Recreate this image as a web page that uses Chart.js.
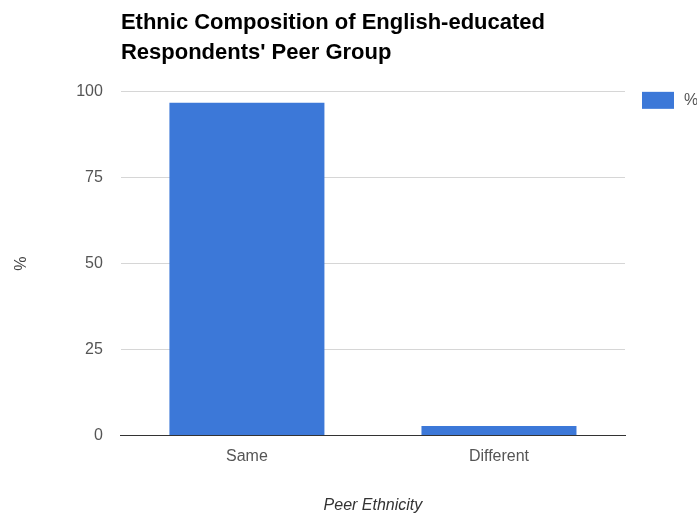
<!DOCTYPE html>
<html lang="en">
<head>
  <meta charset="UTF-8">
  <title>Ethnic Composition of English-educated Respondents' Peer Group</title>
  <script src="https://cdn.jsdelivr.net/npm/chart.js"></script>
  <style>
    html, body {
      margin: 0;
      padding: 0;
      background: #fff;
    }
    .chart-box {
      width: 697px;
      height: 518px;
      position: relative;
    }
  </style>
</head>
<body>
  <div class="chart-box">
    <canvas id="peerChart"></canvas>
  </div>

  <script>
    // Peer ethnicity shares (%)
    const categories = ['Same', 'Different'];
    const percentValues = [96.8, 2.8];
    const yTicks = [0, 25, 50, 75, 100];

    const barBlue = '#3c78d8';
    const fontFamily = "'Liberation Sans', Arial, sans-serif";

    // small legend at the right of the plot, top aligned with the 100 gridline
    const sideLegend = {
      id: 'sideLegend',
      afterDraw(chart) {
        const { ctx, chartArea } = chart;
        const ds = chart.data.datasets[0];
        const x = chartArea.right + 17;
        const y = chartArea.top;
        ctx.save();
        ctx.fillStyle = ds.backgroundColor;
        ctx.fillRect(x, y, 32, 17);
        ctx.fillStyle = '#555';
        ctx.font = '16px ' + fontFamily;
        ctx.textBaseline = 'middle';
        ctx.textAlign = 'left';
        ctx.fillText(ds.label, x + 42, y + 9);
        ctx.restore();
      }
    };

    const ctx = document.getElementById('peerChart').getContext('2d');
    new Chart(ctx, {
      type: 'bar',
      data: {
        labels: categories,
        datasets: [{
          label: '%',
          data: percentValues,
          backgroundColor: barBlue,
          borderWidth: 0,
          barPercentage: 0.615,
          categoryPercentage: 1.0
        }]
      },
      plugins: [sideLegend],
      options: {
        responsive: true,
        maintainAspectRatio: false,
        animation: false,
        layout: {
          padding: { top: 8, left: 12, right: 72, bottom: 3 }
        },
        plugins: {
          title: {
            display: true,
            text: ["Ethnic Composition of English-educated", "Respondents' Peer Group"],
            align: 'start',
            fullSize: false,
            color: '#000',
            font: { family: fontFamily, size: 22, weight: 'bold', lineHeight: 1.36 },
            padding: { top: 0, bottom: 24 }
          },
          legend: { display: false },
          tooltip: { enabled: false }
        },
        scales: {
          x: {
            grid: { display: false, drawTicks: false },
            border: { display: true, color: '#333', width: 1 },
            ticks: {
              color: '#555',
              padding: 11,
              font: { family: fontFamily, size: 16 }
            },
            title: {
              display: true,
              text: 'Peer Ethnicity',
              color: '#333',
              font: { family: fontFamily, size: 16, style: 'italic' },
              padding: { top: 19, bottom: 0 }
            }
          },
          y: {
            min: 0,
            max: 100,
            afterBuildTicks: axis => {
              axis.ticks = yTicks.map(v => ({ value: v }));
            },
            grid: {
              drawTicks: false,
              color: c => (c.tick && c.tick.value === 0) ? '#333' : '#d6d6d6',
              lineWidth: 1
            },
            border: { display: false },
            ticks: {
              color: '#555',
              padding: 18,
              font: { family: fontFamily, size: 16 }
            },
            title: {
              display: true,
              text: '%',
              color: '#444',
              font: { family: fontFamily, size: 16 },
              padding: { top: 0, bottom: 27 }
            }
          }
        }
      }
    });
  </script>
</body>
</html>
